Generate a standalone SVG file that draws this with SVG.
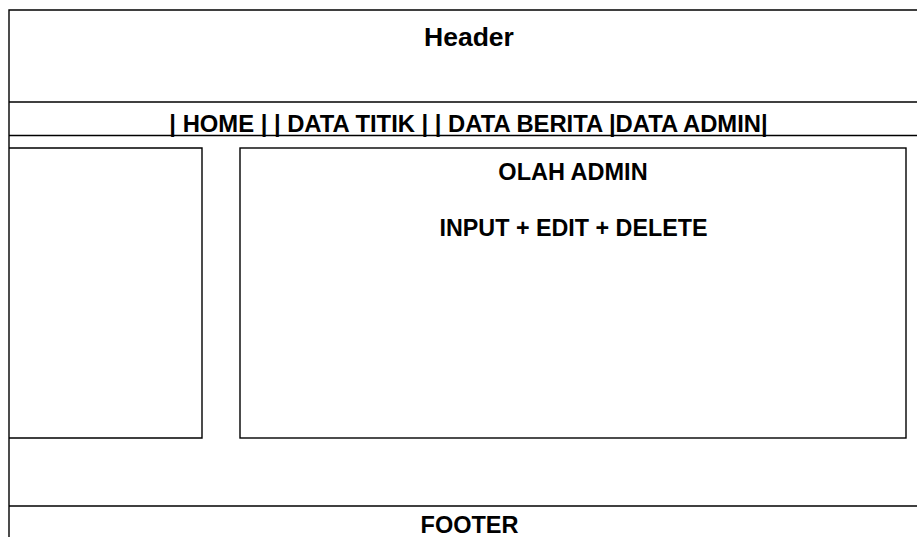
<svg xmlns="http://www.w3.org/2000/svg" width="917" height="537" viewBox="0 0 917 537">
<style>
.ln{stroke:#000;stroke-width:1.4;fill:none}
.bx{stroke:#000;stroke-width:1.4;fill:#fff}
.t{font-family:"Liberation Sans",Arial,sans-serif;font-weight:bold;fill:#000;text-anchor:middle}
</style>
<rect width="917" height="537" fill="#fff"/>
<g id="frame">
<path class="ln" d="M9,537 V10 H917"/>
</g>
<g id="header">
<text class="t" x="469" y="46" font-size="26.5">Header</text>
<line class="ln" x1="9" y1="102" x2="917" y2="102"/>
</g>
<g id="nav">
<text class="t" x="468.5" y="132" font-size="23.8">| HOME | | DATA TITIK | | DATA BERITA |DATA ADMIN|</text>
<line class="ln" x1="9" y1="135.5" x2="917" y2="135.5"/>
</g>
<g id="sidebar">
<path class="ln" d="M9,148 H202 V438 H9"/>
</g>
<g id="content">
<rect class="bx" x="240" y="148" width="666" height="290"/>
<text class="t" x="573" y="180" font-size="23.5">OLAH ADMIN</text>
<text class="t" x="573.5" y="236" font-size="23.3">INPUT + EDIT + DELETE</text>
</g>
<g id="footer">
<line class="ln" x1="9" y1="506" x2="917" y2="506"/>
<text class="t" x="469.5" y="533" font-size="23.5">FOOTER</text>
</g>
<g id="connectors"></g>
</svg>
